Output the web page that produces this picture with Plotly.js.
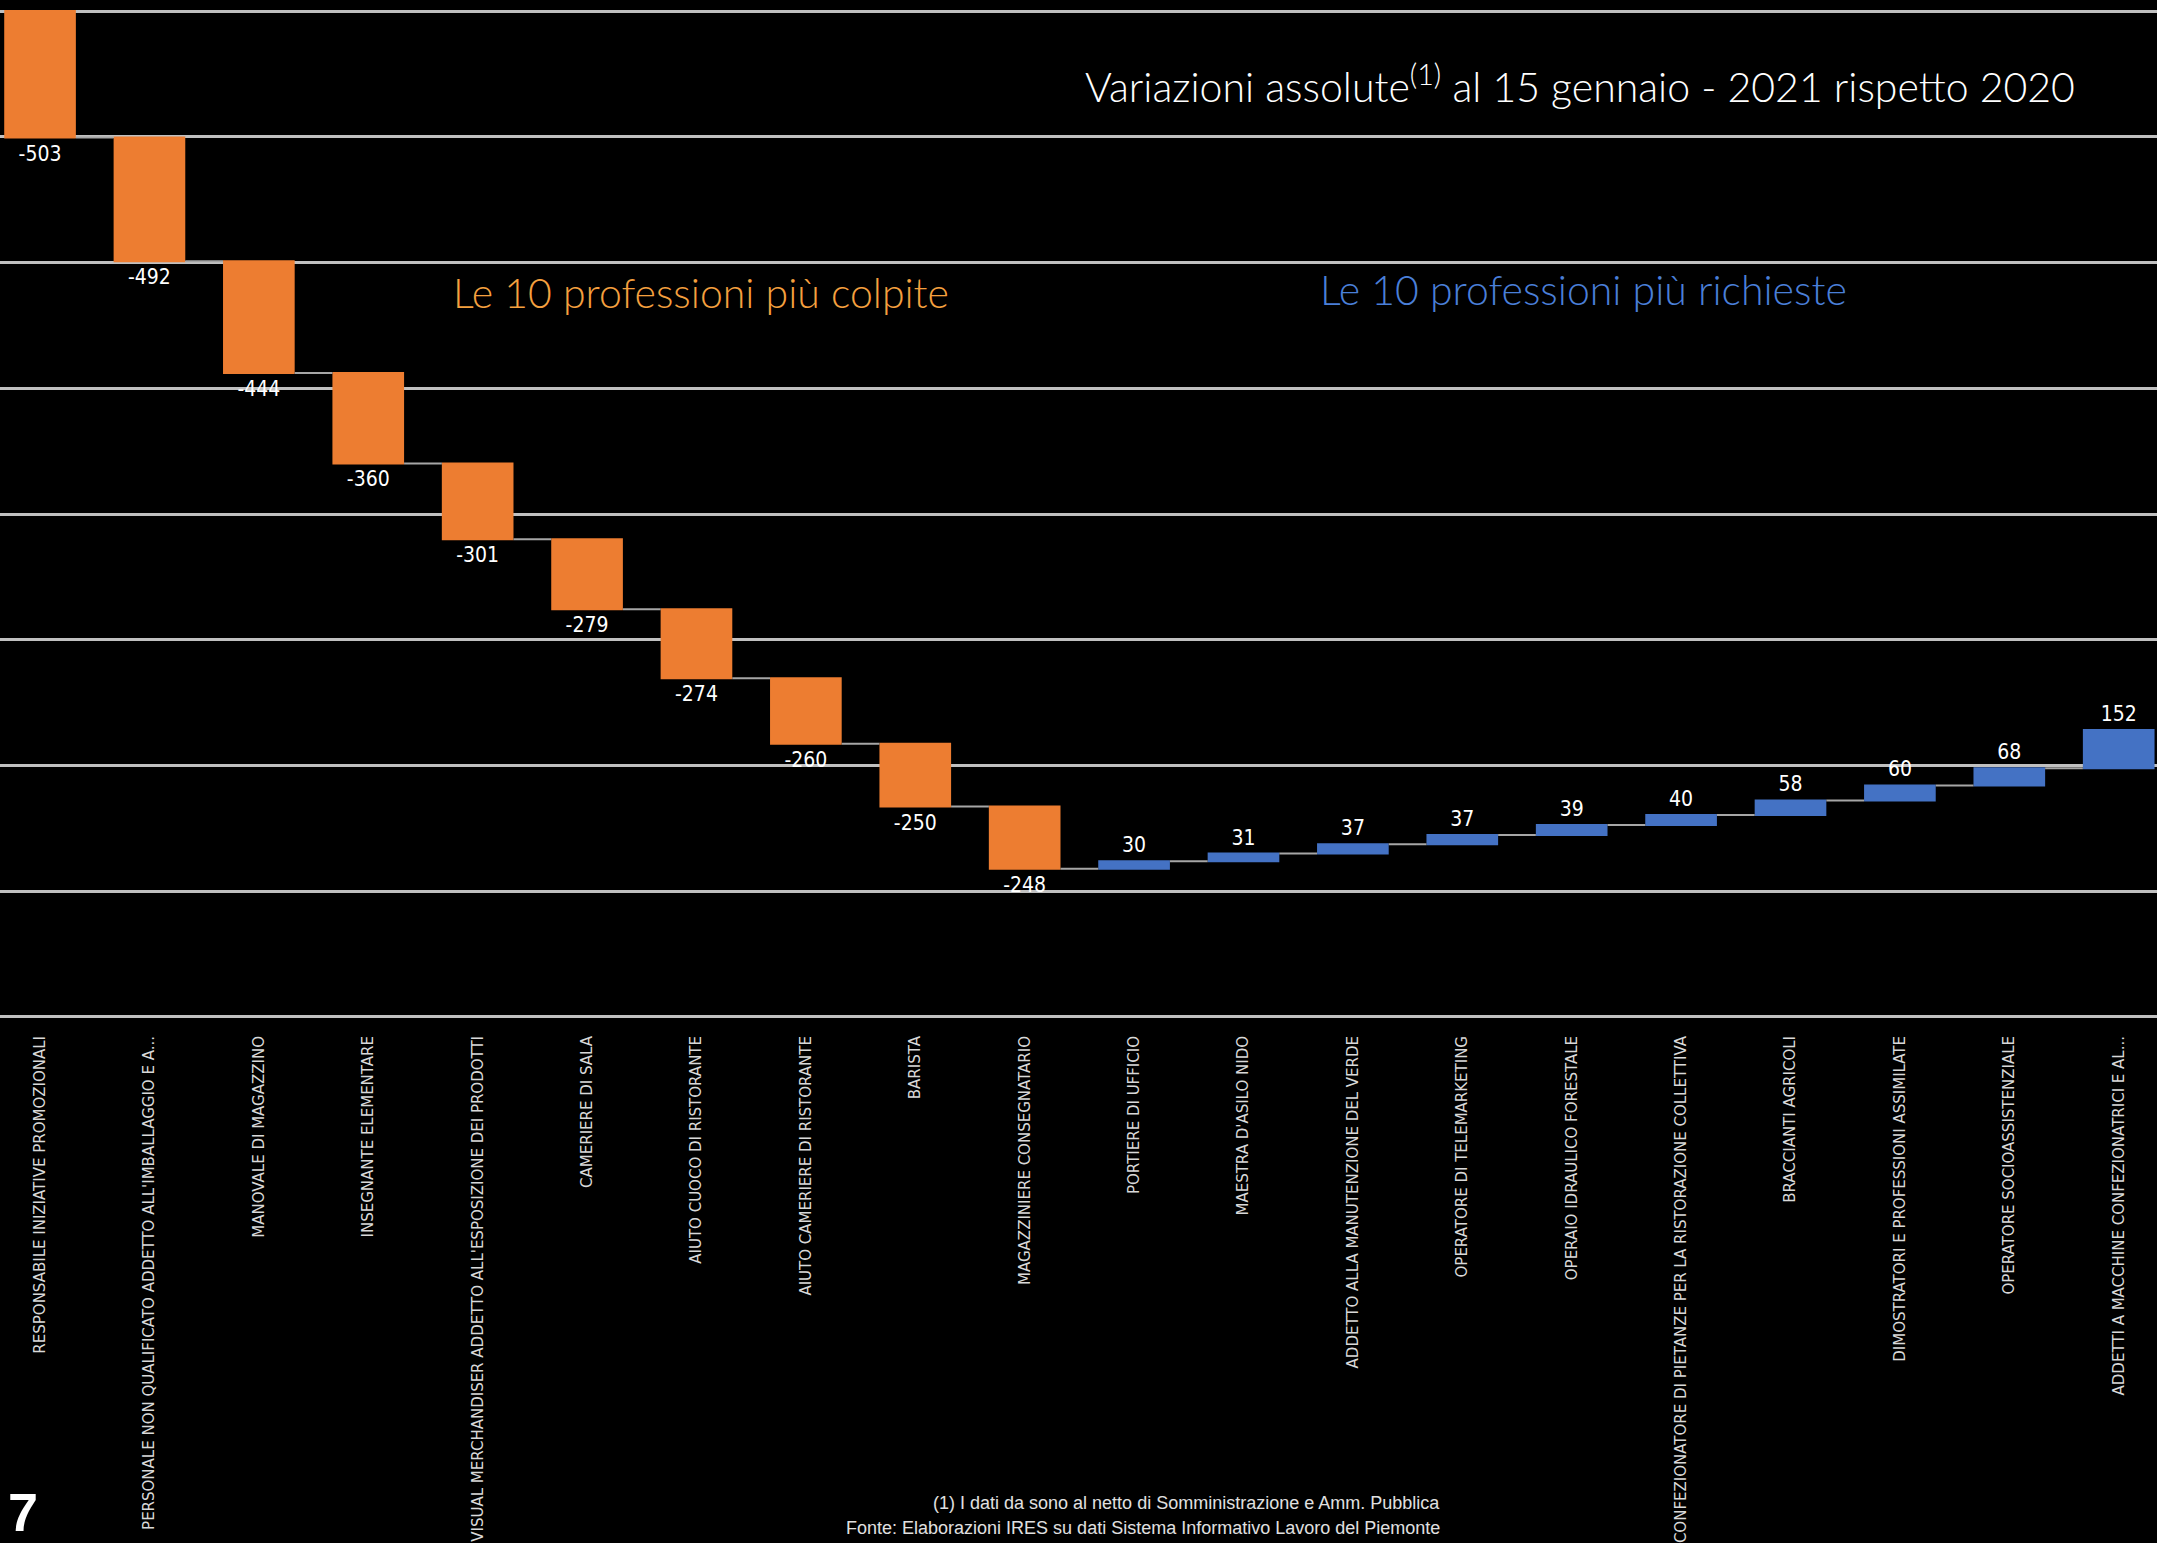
<!DOCTYPE html>
<html>
<head>
<meta charset="utf-8">
<script src="https://cdn.plot.ly/plotly-3.0.1.min.js"></script>
<style>html,body{margin:0;padding:0;background:#000;}#chart{width:2157px;height:1543px;}</style>
</head>
<body>
<div id="chart"></div>
<script>
const categories = [
  "RESPONSABILE INIZIATIVE PROMOZIONALI",
  "PERSONALE NON QUALIFICATO ADDETTO ALL'IMBALLAGGIO E A...",
  "MANOVALE DI MAGAZZINO",
  "INSEGNANTE ELEMENTARE",
  "VISUAL MERCHANDISER ADDETTO ALL'ESPOSIZIONE DEI PRODOTTI",
  "CAMERIERE DI SALA",
  "AIUTO CUOCO DI RISTORANTE",
  "AIUTO CAMERIERE DI RISTORANTE",
  "BARISTA",
  "MAGAZZINIERE CONSEGNATARIO",
  "PORTIERE DI UFFICIO",
  "MAESTRA D'ASILO NIDO",
  "ADDETTO ALLA MANUTENZIONE DEL VERDE",
  "OPERATORE DI TELEMARKETING",
  "OPERAIO IDRAULICO FORESTALE",
  "CONFEZIONATORE DI PIETANZE PER LA RISTORAZIONE COLLETTIVA",
  "BRACCIANTI AGRICOLI",
  "DIMOSTRATORI E PROFESSIONI ASSIMILATE",
  "OPERATORE SOCIOASSISTENZIALE",
  "ADDETTI A MACCHINE CONFEZIONATRICI E AL..."
];
const values = [-503, -492, -444, -360, -301, -279, -274, -260, -250, -248,
                30, 31, 37, 37, 39, 40, 58, 60, 68, 152];
const gridTicks = [0, -500, -1000, -1500, -2000, -2500, -3000, -3500, -4000];

const PLOT_H = 1018;
const py = px => (PLOT_H - px) / PLOT_H;

const trace = {
  type: 'waterfall',
  x: categories,
  y: values,
  measure: values.map(() => 'relative'),
  text: values.map(v => String(v)),
  textposition: 'outside',
  textfont: {family: '"Liberation Sans Narrow", "DejaVu Sans Condensed", sans-serif', size: 21, color: '#ffffff'},
  cliponaxis: false,
  decreasing: {marker: {color: '#ED7D31'}},
  increasing: {marker: {color: '#4472C4'}},
  connector: {line: {color: '#a6a6a6', width: 2}},
  hoverinfo: 'none'
};

const layout = {
  width: 2157, height: 1543,
  paper_bgcolor: '#000000', plot_bgcolor: '#000000',
  margin: {l: 0, r: 0, t: 0, b: 1543 - PLOT_H},
  showlegend: false,
  waterfallgap: 0.345,
  xaxis: {
    type: 'category',
    range: [-0.366, 19.35],
    tickangle: -90,
    ticks: '',
    showgrid: false,
    zeroline: false,
    showline: false,
    ticklabelstandoff: 14,
    tickfont: {family: '"DejaVu Sans", sans-serif', size: 15, color: '#d9d9d9'}
  },
  yaxis: {
    range: [-4004, 44],
    tickvals: gridTicks,
    showticklabels: false,
    showgrid: true,
    gridcolor: '#c0c0c0',
    gridwidth: 3,
    zeroline: false,
    showline: false
  },
  annotations: [
    {text: 'Variazioni assolute<sup>(1)</sup> al 15 gennaio - 2021 rispetto 2020', xref: 'paper', yref: 'paper',
     x: 2077/2157, y: py(84), xanchor: 'right', yanchor: 'middle', showarrow: false,
     font: {family: 'Lato, sans-serif', size: 41, weight: 300, color: '#ffffff'}},
    {text: 'Le 10 professioni più colpite', xref: 'paper', yref: 'paper',
     x: 451/2157, y: py(292), xanchor: 'left', yanchor: 'middle', showarrow: false,
     font: {family: 'Lato, sans-serif', size: 41, weight: 300, color: '#F5A03F'}},
    {text: 'Le 10 professioni più richieste', xref: 'paper', yref: 'paper',
     x: 1318/2157, y: py(290), xanchor: 'left', yanchor: 'middle', showarrow: false,
     font: {family: 'Lato, sans-serif', size: 41, weight: 300, color: '#4A7FD8'}},
    {text: '(1) I dati da sono al netto di Somministrazione e Amm. Pubblica', xref: 'paper', yref: 'paper',
     x: 1442/2157, y: py(1503), xanchor: 'right', yanchor: 'middle', showarrow: false,
     font: {family: '"Liberation Sans Narrow", sans-serif', size: 18, color: '#e0e0e0'}},
    {text: 'Fonte: Elaborazioni IRES su dati Sistema Informativo Lavoro del Piemonte', xref: 'paper', yref: 'paper',
     x: 1442/2157, y: py(1528), xanchor: 'right', yanchor: 'middle', showarrow: false,
     font: {family: '"Liberation Sans Narrow", sans-serif', size: 18, color: '#e0e0e0'}},
    {text: '<b>7</b>', xref: 'paper', yref: 'paper',
     x: 6/2157, y: py(1512), xanchor: 'left', yanchor: 'middle', showarrow: false, height: 50,
     font: {family: '"Liberation Sans Narrow", sans-serif', size: 54, color: '#ffffff'}}
  ]
};

Plotly.newPlot('chart', [trace], layout, {staticPlot: true, displayModeBar: false});
</script>
</body>
</html>
